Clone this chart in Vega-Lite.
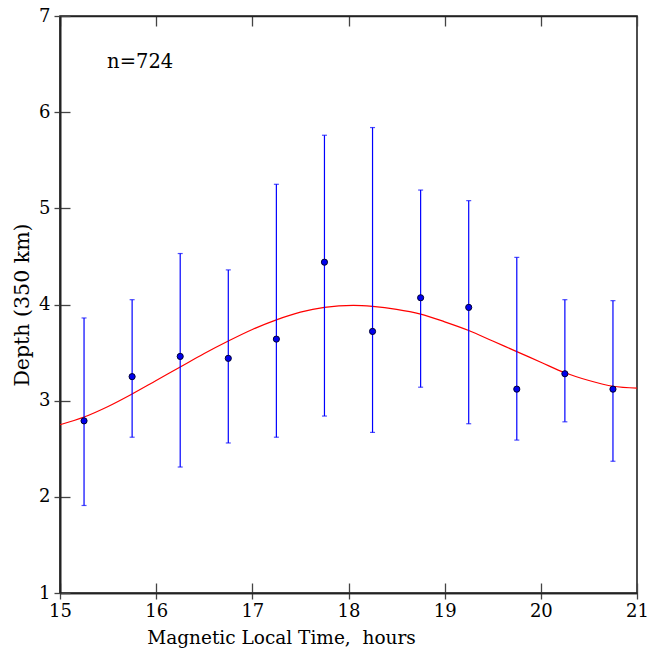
{
  "$schema": "https://vega.github.io/schema/vega-lite/v6.json",
  "width": 577,
  "height": 577,
  "autosize": {"type": "none"},
  "padding": {"left": 60, "top": 16, "right": 11, "bottom": 57},
  "background": "white",
  "config": {
    "view": {"stroke": "#222222", "strokeWidth": 1.6},
    "font": "DejaVu Serif",
    "axis": {
      "grid": false,
      "domainColor": "#222222",
      "domainWidth": 1.6,
      "tickColor": "#444444",
      "tickWidth": 1.3,
      "tickSize": 10,
      "tickCount": 6,
      "format": "d",
      "labelFont": "DejaVu Serif",
      "labelFontSize": 18,
      "labelColor": "black",
      "titleFont": "DejaVu Serif",
      "titleFontSize": 18.5,
      "titleFontWeight": "normal",
      "titleColor": "black"
    }
  },
  "datasets": {
    "obs": [
      {"mlt": 15.25, "depth": 2.79, "lo": 1.91, "hi": 3.86},
      {"mlt": 15.75, "depth": 3.25, "lo": 2.62, "hi": 4.05},
      {"mlt": 16.25, "depth": 3.46, "lo": 2.31, "hi": 4.53},
      {"mlt": 16.75, "depth": 3.44, "lo": 2.56, "hi": 4.36},
      {"mlt": 17.25, "depth": 3.64, "lo": 2.62, "hi": 5.25},
      {"mlt": 17.75, "depth": 4.44, "lo": 2.84, "hi": 5.76},
      {"mlt": 18.25, "depth": 3.72, "lo": 2.67, "hi": 5.84},
      {"mlt": 18.75, "depth": 4.07, "lo": 3.14, "hi": 5.19},
      {"mlt": 19.25, "depth": 3.97, "lo": 2.76, "hi": 5.08},
      {"mlt": 19.75, "depth": 3.12, "lo": 2.59, "hi": 4.49},
      {"mlt": 20.25, "depth": 3.28, "lo": 2.78, "hi": 4.05},
      {"mlt": 20.75, "depth": 3.12, "lo": 2.37, "hi": 4.04}
    ],
    "fit": [
      {"mlt": 15.0, "depth": 2.75},
      {"mlt": 15.25, "depth": 2.83},
      {"mlt": 15.5, "depth": 2.94},
      {"mlt": 15.75, "depth": 3.07},
      {"mlt": 16.0, "depth": 3.21},
      {"mlt": 16.25, "depth": 3.35},
      {"mlt": 16.5, "depth": 3.49},
      {"mlt": 16.75, "depth": 3.62},
      {"mlt": 17.0, "depth": 3.74},
      {"mlt": 17.25, "depth": 3.84},
      {"mlt": 17.5, "depth": 3.92},
      {"mlt": 17.75, "depth": 3.97},
      {"mlt": 18.05, "depth": 3.99},
      {"mlt": 18.25, "depth": 3.98},
      {"mlt": 18.5, "depth": 3.95},
      {"mlt": 18.75, "depth": 3.9},
      {"mlt": 19.0, "depth": 3.82},
      {"mlt": 19.25, "depth": 3.73},
      {"mlt": 19.5, "depth": 3.62},
      {"mlt": 19.75, "depth": 3.51},
      {"mlt": 20.0, "depth": 3.4},
      {"mlt": 20.25, "depth": 3.29},
      {"mlt": 20.5, "depth": 3.21},
      {"mlt": 20.75, "depth": 3.15},
      {"mlt": 21.0, "depth": 3.13}
    ],
    "label": [
      {"mlt": 15.49, "depth": 6.52, "txt": "n=724"}
    ]
  },
  "layer": [
    {
      "data": {"name": "label"},
      "mark": {"type": "point", "opacity": 0},
      "encoding": {
        "x": {
          "field": "mlt", "type": "quantitative",
          "scale": {"domain": [15, 21], "nice": false, "zero": false},
          "axis": {"orient": "top", "offset": -577, "labelOpacity": 0, "labelColor": "transparent", "title": null}
        },
        "y": {
          "field": "depth", "type": "quantitative",
          "scale": {"domain": [1, 7], "nice": false, "zero": false},
          "axis": {"orient": "right", "offset": -577, "labelOpacity": 0, "labelColor": "transparent", "title": null}
        }
      }
    },
    {
      "data": {"name": "label"},
      "mark": {"type": "point", "opacity": 0},
      "encoding": {
        "x": {
          "field": "mlt", "type": "quantitative",
          "scale": {"domain": [15, 21], "nice": false, "zero": false},
          "axis": {"orient": "bottom", "offset": -577, "labelOpacity": 0, "labelColor": "transparent", "title": null}
        },
        "y": {
          "field": "depth", "type": "quantitative",
          "scale": {"domain": [1, 7], "nice": false, "zero": false},
          "axis": null
        }
      }
    },
    {
      "data": {"name": "fit"},
      "mark": {"type": "line", "color": "#ff0000", "strokeWidth": 1.2, "interpolate": "monotone"},
      "encoding": {
        "x": {
          "field": "mlt", "type": "quantitative",
          "scale": {"domain": [15, 21], "nice": false, "zero": false},
          "axis": {"orient": "bottom", "ticks": true, "tickSize": 6, "title": "Magnetic Local Time,\u00a0 hours", "labelPadding": 3, "titlePadding": 8, "titleX": 221, "titleAnchor": "middle", "labelFlush": false}
        },
        "y": {
          "field": "depth", "type": "quantitative",
          "scale": {"domain": [1, 7], "nice": false, "zero": false},
          "axis": {"orient": "left", "ticks": true, "tickSize": 6, "title": "Depth (350 km)", "titleFontSize": 20.5, "labelPadding": 4, "titlePadding": 6, "labelFlush": false}
        }
      }
    },
    {
      "data": {"name": "obs"},
      "mark": {"type": "rule", "color": "#0000ff", "strokeWidth": 1.2},
      "encoding": {
        "x": {"field": "mlt", "type": "quantitative", "axis": null},
        "y": {"field": "lo", "type": "quantitative", "axis": null},
        "y2": {"field": "hi"}
      }
    },
    {
      "data": {"name": "obs"},
      "mark": {"type": "tick", "orient": "horizontal", "color": "#0000ff", "size": 5, "thickness": 1.2},
      "encoding": {
        "x": {"field": "mlt", "type": "quantitative", "axis": null},
        "y": {"field": "lo", "type": "quantitative", "axis": null}
      }
    },
    {
      "data": {"name": "obs"},
      "mark": {"type": "tick", "orient": "horizontal", "color": "#0000ff", "size": 5, "thickness": 1.2},
      "encoding": {
        "x": {"field": "mlt", "type": "quantitative", "axis": null},
        "y": {"field": "hi", "type": "quantitative", "axis": null}
      }
    },
    {
      "data": {"name": "obs"},
      "mark": {"type": "point", "filled": true, "fill": "#0000ee", "stroke": "#000033", "strokeWidth": 1, "size": 38, "opacity": 1},
      "encoding": {
        "x": {"field": "mlt", "type": "quantitative", "axis": null},
        "y": {"field": "depth", "type": "quantitative", "axis": null}
      }
    },
    {
      "data": {"name": "label"},
      "mark": {"type": "text", "align": "left", "baseline": "middle", "fontSize": 19.5, "font": "DejaVu Serif", "color": "black"},
      "encoding": {
        "x": {"field": "mlt", "type": "quantitative", "axis": null},
        "y": {"field": "depth", "type": "quantitative", "axis": null},
        "text": {"field": "txt"}
      }
    }
  ],
  "resolve": {"axis": {"x": "independent", "y": "independent"}}
}
